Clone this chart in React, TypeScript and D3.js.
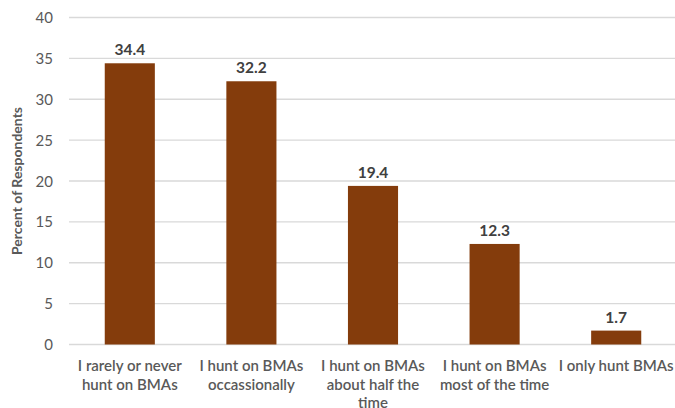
import { useEffect, useRef } from 'react';
import * as d3 from 'd3';

const categories = [
  'I rarely or never hunt on BMAs',
  'I hunt on BMAs occassionally',
  'I hunt on BMAs about half the time',
  'I hunt on BMAs most of the time',
  'I only hunt BMAs',
];
const labelLines = [
  ['I rarely or never', 'hunt on BMAs'],
  ['I hunt on BMAs', 'occassionally'],
  ['I hunt on BMAs', 'about half the', 'time'],
  ['I hunt on BMAs', 'most of the time'],
  ['I only hunt BMAs'],
];
const values = [34.4, 32.2, 19.4, 12.3, 1.7];
const yTicks = [0, 5, 10, 15, 20, 25, 30, 35, 40];

const width = 675;
const height = 408;
const font = 'Lato, "Open Sans", sans-serif';

export default function App() {
  const ref = useRef<SVGSVGElement>(null);

  useEffect(() => {
    const svg = d3.select(ref.current);
    svg.selectAll('*').remove();

    const x = d3.scaleBand().domain(categories).range([69, 677]).paddingInner(0);
    const y = d3.scaleLinear().domain([0, 40]).range([344.5, 17.5]);
    const barW = x.bandwidth() * 0.412;

    // gridlines
    svg
      .append('g')
      .selectAll('line')
      .data(yTicks)
      .enter()
      .append('line')
      .attr('x1', 69)
      .attr('x2', 677)
      .attr('y1', d => y(d))
      .attr('y2', d => y(d))
      .attr('stroke', '#d9d9d9')
      .attr('stroke-width', 1.3);

    // y tick labels
    svg
      .append('g')
      .selectAll('text')
      .data(yTicks)
      .enter()
      .append('text')
      .text(d => d)
      .attr('x', 53)
      .attr('y', d => y(d) + 5.5)
      .attr('text-anchor', 'end')
      .style('font-family', font)
      .style('font-size', '15px')
      .attr('fill', '#595959');

    // bars
    svg
      .append('g')
      .selectAll('rect')
      .data(values)
      .enter()
      .append('rect')
      .attr('x', (d, i) => x(categories[i]) + x.bandwidth() / 2 - barW / 2)
      .attr('width', barW)
      .attr('y', d => y(d))
      .attr('height', d => y(0) - y(d))
      .attr('fill', '#843c0c');

    // data labels
    svg
      .append('g')
      .selectAll('text')
      .data(values)
      .enter()
      .append('text')
      .text(d => d.toFixed(1))
      .attr('x', (d, i) => x(categories[i]) + x.bandwidth() / 2)
      .attr('y', d => y(d) - 8)
      .attr('text-anchor', 'middle')
      .style('font-family', font)
      .style('font-size', '15.5px')
      .style('font-weight', 'bold')
      .attr('fill', '#404040');

    // category labels
    const cat = svg
      .append('g')
      .selectAll('text')
      .data(labelLines)
      .enter()
      .append('text')
      .attr('text-anchor', 'middle')
      .style('font-family', font)
      .style('font-size', '15px')
      .style('font-weight', '600')
      .attr('fill', '#595959');
    cat
      .selectAll('tspan')
      .data((d, i) => d.map(line => ({ line, i })))
      .enter()
      .append('tspan')
      .attr('x', d => x(categories[d.i]) + x.bandwidth() / 2)
      .attr('y', (d, j) => 371 + j * 18.5)
      .text(d => d.line);

    // y axis title
    svg
      .append('text')
      .text('Percent of Respondents')
      .attr('transform', 'translate(22, 181) rotate(-90)')
      .attr('text-anchor', 'middle')
      .style('font-family', font)
      .style('font-size', '14px')
      .style('font-weight', 'bold')
      .attr('fill', '#595959');
  }, []);

  return (
    <svg
      ref={ref}
      width={width}
      height={height}
      style={{ position: 'absolute', left: 0, top: 0, background: '#fff' }}
    />
  );
}
